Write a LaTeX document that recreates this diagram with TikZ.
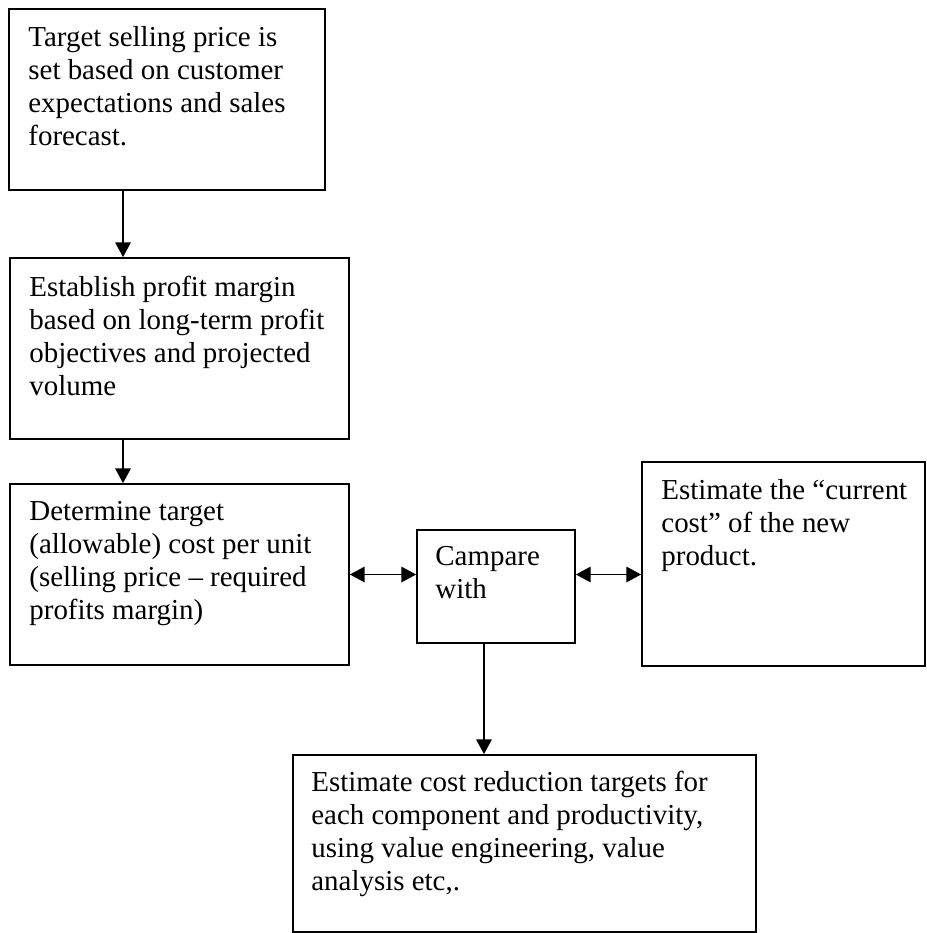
\documentclass[tikz,border=0pt]{standalone}
\usepackage{fontspec}
\setmainfont{Liberation Serif}
\usetikzlibrary{arrows.meta,fit}

% several lines of text, baseline of the block = baseline of its first line
\newcommand\linestack[1]{\begin{tabular}[t]{@{}l@{}}#1\end{tabular}}

\begin{document}
\begin{tikzpicture}[x=0.75pt, y=-0.75pt,
  box/.style={draw, line width=1.3pt, inner sep=0pt},
  txt/.style={inner sep=0pt, anchor=base west,
              font=\fontsize{21.7pt}{24.75pt}\selectfont},
  tip/.tip={Triangle[length=11pt,width=11.5pt]},
  arr/.style={line width=1.3pt, -tip},
  arrboth/.style={line width=1.3pt, tip-tip}]

\fill[white] (0,0) rectangle (926,933);
\useasboundingbox (0,0) rectangle (926,933);

% boxes
\node[box, fit={(9,9) (325,190)}]     (b1)  {};
\node[box, fit={(10,258) (349,439)}]  (b2)  {};
\node[box, fit={(10,484) (349,665)}]  (b3)  {};
\node[box, fit={(417,530) (575,643)}] (cmp) {};
\node[box, fit={(642,462) (925,666)}] (rt)  {};
\node[box, fit={(293,755) (756,932)}] (bot) {};

% texts, first baseline about 38px below the top edge, 20px from the left edge
\node[txt] (t1) at ([shift={(20,38)}]b1.north west)
  {\linestack{Target selling price is\\set based on customer\\expectations and sales\\forecast.}};
\node[txt] (t2) at ([shift={(20,39)}]b2.north west)
  {\linestack{Establish profit margin\\based on long-term profit\\objectives and projected\\volume}};
\node[txt] (t3) at ([shift={(20,37)}]b3.north west)
  {\linestack{Determine target\\(allowable) cost per unit\\(selling price – required\\profits margin)}};
\node[txt] (tc) at ([shift={(19,36)}]cmp.north west)
  {\linestack{Campare\\with}};
\node[txt] (tr) at ([shift={(20,38)}]rt.north west)
  {\linestack{Estimate the “current\\cost” of the new\\product.}};
\node[txt] (tb) at ([shift={(19,37)}]bot.north west)
  {\linestack{Estimate cost reduction targets for\\each component and productivity,\\using value engineering, value\\analysis etc,.}};

% columns of the vertical connectors
\coordinate (lx) at (123,0);
\coordinate (cx) at (484,0);

% connectors
\draw[arr] (b1.south -| lx) -- (b2.north -| lx);
\draw[arr] (b2.south -| lx) -- (b3.north -| lx);
\draw[arrboth] (b3.east) -- (b3.east -| cmp.west);
\draw[arrboth] (cmp.east |- b3.east) -- (rt.west |- b3.east);
\draw[arr] (cmp.south -| cx) -- (bot.north -| cx);
\end{tikzpicture}
\end{document}
